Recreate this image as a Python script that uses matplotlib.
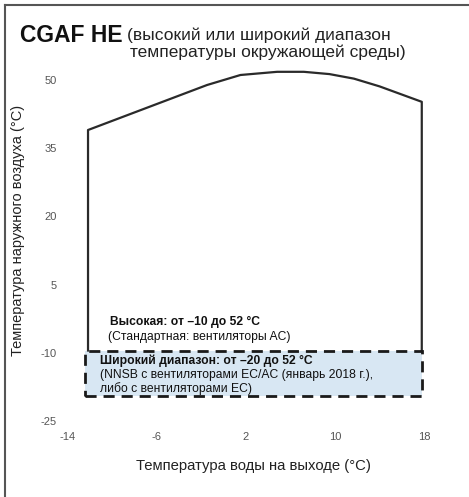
import matplotlib.pyplot as plt
from matplotlib.lines import Line2D
from matplotlib.patches import Rectangle

plt.rcParams['font.family'] = ['Liberation Sans', 'DejaVu Sans']
plt.rcParams['axes.unicode_minus'] = False

# envelope of the high ambient range (upper curve)
env_x = [-12.2, -1.5, 1.5, 4.8, 7.2, 9.5, 11.7, 14.0, 17.8]
env_y = [39.0, 48.9, 51.1, 51.8, 51.8, 51.3, 50.3, 48.6, 45.2]
high_bottom = -9.5
wide_bottom = -19.4
wide_left = -12.5

xticks = [-14, -6, 2, 10, 18]
yticks = [-25, -10, 5, 20, 35, 50]

W, H = 469, 497
fig = plt.figure(figsize=(W / 100, H / 100), dpi=100)
ax = fig.add_axes([68 / W, 1 - 421 / H, 356 / W, 341 / H])
ax.set_xlim(-14, 18)
ax.set_ylim(-25, 50)

# wide range box (dashed, light blue)
ax.add_patch(Rectangle((wide_left, wide_bottom), env_x[-1] - wide_left,
                       high_bottom - wide_bottom, facecolor='#d8e7f3',
                       edgecolor='none', zorder=1))
ax.add_patch(Rectangle((wide_left, wide_bottom), env_x[-1] - wide_left,
                       high_bottom - wide_bottom, facecolor='none',
                       edgecolor='#1a1a1a', lw=2, ls=(0, (4, 2.5)), zorder=3))

# high range envelope
xs = [env_x[0]] + env_x + [env_x[-1]]
ys = [high_bottom] + env_y + [high_bottom]
ax.plot(xs, ys, color='#2a2a2a', lw=1.6, zorder=2, clip_on=False)

fs = 8.7
ax.text(-10.2, -3.2, 'Высокая: от –10 до 52 °C', fontsize=fs,
        fontweight='bold', va='center', color='#111')
ax.text(-10.4, -6.6, '(Стандартная: вентиляторы AC)', fontsize=fs,
        va='center', color='#111')
ax.text(-11.1, -11.8, 'Широкий диапазон: от –20 до 52 °C', fontsize=fs,
        fontweight='bold', va='center', color='#111')
ax.text(-11.1, -14.9, '(NNSB с вентиляторами EC/AC (январь 2018 г.),',
        fontsize=fs, va='center', color='#111')
ax.text(-11.1, -17.8, 'либо с вентиляторами EC)', fontsize=fs,
        va='center', color='#111')

ax.set_xticks(xticks)
ax.set_yticks(yticks)
ax.tick_params(length=0, labelsize=8, labelcolor='#555')
ax.tick_params(axis='x', pad=8)
ax.tick_params(axis='y', pad=8)
for s in ax.spines.values():
    s.set_visible(False)

fig.text(20 / W, 1 - 42 / H, 'CGAF HE', fontsize=16.5, fontweight='bold',
         va='baseline', color='#111')
fig.text(127 / W, 1 - 40 / H, '(высокий или широкий диапазон', fontsize=12.5,
         va='baseline', color='#222')
fig.text(130 / W, 1 - 57 / H, 'температуры окружающей среды)', fontsize=12.5,
         va='baseline', color='#222')
fig.text(253 / W, 1 - 466 / H, 'Температура воды на выходе (°C)', fontsize=10.7,
         ha='center', va='center', color='#222')
fig.text(18 / W, 1 - 230 / H, 'Температура наружного воздуха (°C)', fontsize=10.5,
         rotation=90, ha='center', va='center', color='#222')

# outer frame (top and left only)
fig.add_artist(Line2D([5 / W, 5 / W], [0, 1 - 5 / H], color='#555', lw=1.5))
fig.add_artist(Line2D([5 / W, 1], [1 - 5 / H, 1 - 5 / H], color='#555', lw=1.5))

fig.savefig('out.png', dpi=100)
